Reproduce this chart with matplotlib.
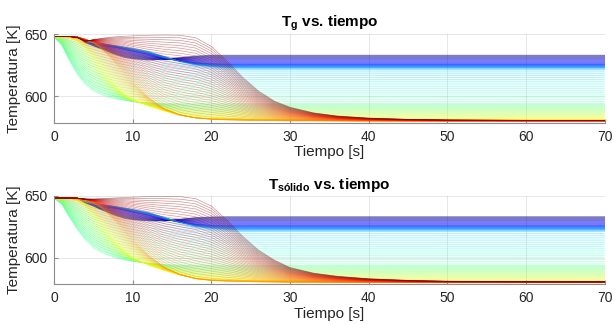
import numpy as np
import matplotlib.pyplot as plt

plt.rcParams['font.family'] = ['Liberation Sans', 'DejaVu Sans']
plt.rcParams['mathtext.fontset'] = 'custom'
plt.rcParams['mathtext.rm'] = 'Liberation Sans'
plt.rcParams['mathtext.bf'] = 'Liberation Sans:bold'
plt.rcParams['mathtext.it'] = 'Liberation Sans:italic'

# time grid [s]
t = [0, 1, 2, 3, 4, 5, 6, 7, 8, 9, 10, 12, 14, 16, 18, 20, 22, 24, 26, 28, 30, 33, 36, 40, 45, 50, 60, 70]

# representative curves (gas temperature), jet order blue -> red
g_dark_blue = [648, 648, 648, 647.5, 643, 640.5, 638, 635.5, 633, 631, 630, 629, 629.5, 631, 632.3, 633, 633, 633, 633, 633, 633, 633, 633, 633, 633, 633, 633, 633]
g_blue = [648, 648, 648, 647.5, 644, 642.5, 641, 640, 639, 637.5, 636, 633.5, 630.5, 628.3, 627, 626.3, 626, 626, 626, 626, 626, 626, 626, 626, 626, 626, 626, 626]
g_azure = [648, 648, 648, 647.5, 645, 643.5, 642.5, 641.5, 640.5, 639.5, 638.5, 636, 632, 628, 625, 623.5, 622.7, 622.5, 622.5, 622.5, 622.5, 622.5, 622.5, 622.5, 622.5, 622.5, 622.5, 622.5]
g_cyan_top = [648, 647, 645, 643, 641, 639.5, 638, 636.5, 635, 633.5, 632, 629.5, 627, 625, 623, 621.8, 621, 621, 621, 621, 621, 621, 621, 621, 621, 621, 621, 621]
g_cyan_low = [648, 641, 628, 617, 609, 604, 601, 599, 597.5, 596.5, 595.5, 594.5, 594, 594, 594, 594, 594, 594, 594, 594, 594, 594, 594, 594, 594, 594, 594, 594]
g_yellow = [648, 648, 647, 644, 638, 630, 622, 614, 607, 601, 597, 592, 588, 584.5, 582.5, 582, 581.8, 581.6, 581.5, 581.5, 581.4, 581.3, 581.2, 581.1, 581, 581, 581, 581]
g_orange = [648, 648, 648, 647.5, 646, 643, 638, 632, 625, 618, 611, 599, 590, 585, 582.5, 581.3, 580.8, 580.5, 580.3, 580.2, 580, 580, 579.9, 579.8, 579.8, 579.8, 579.8, 579.8]
g_red = [648, 648, 648, 647, 644, 645.5, 646.5, 647.3, 647.8, 648.2, 648.5, 649, 649.2, 649, 647, 640, 628, 615, 604, 596, 591, 586.5, 584, 582.3, 581.3, 580.8, 580.5, 580.5]

# same for the solid temperature
s_dark_blue = [648, 648, 648, 647.8, 644, 641.5, 638.5, 636, 633.5, 631.5, 630.5, 629.5, 629.5, 631, 632.3, 632.8, 633, 633, 633, 633, 633, 633, 633, 633, 633, 633, 633, 633]
s_blue = [648, 648, 648, 647.8, 645, 643, 641.5, 640.5, 639.5, 638, 636.5, 634, 631, 628.5, 627, 626.2, 626, 626, 626, 626, 626, 626, 626, 626, 626, 626, 626, 626]
s_azure = [648, 648, 648, 647.8, 645.5, 644, 643, 642, 641, 640, 639, 636.5, 632.5, 628.5, 625, 623.3, 622.5, 622.2, 622.2, 622.2, 622.2, 622.2, 622.2, 622.2, 622.2, 622.2, 622.2, 622.2]
s_cyan_top = [648, 647.5, 646, 644, 642, 640, 638.5, 637, 635.5, 634, 632.5, 630, 627.5, 625, 623, 621.5, 621, 621, 621, 621, 621, 621, 621, 621, 621, 621, 621, 621]
s_cyan_low = [648, 643, 632, 622, 614, 608, 604, 601.5, 599.5, 598, 597, 595.5, 594.5, 594, 594, 594, 594, 594, 594, 594, 594, 594, 594, 594, 594, 594, 594, 594]
s_yellow = [648, 648, 647.5, 645.5, 641, 634, 626, 618, 611, 605, 600, 594, 589.5, 586, 583.5, 582.5, 582, 581.8, 581.6, 581.5, 581.5, 581.4, 581.3, 581.2, 581.1, 581, 581, 581]
s_orange = [648, 648, 648, 647.8, 646.5, 644, 640, 634.5, 628, 621, 614, 602, 592.5, 586.5, 583, 581.5, 581, 580.7, 580.4, 580.2, 580, 580, 579.9, 579.8, 579.8, 579.8, 579.8, 579.8]
s_red = [648, 648, 648, 647.8, 647.2, 647.2, 647.5, 647.8, 648.1, 648.4, 648.7, 649.1, 649.3, 649.1, 647.5, 641.5, 630, 617, 606, 598, 592, 587.5, 585, 583, 581.7, 581, 580.7, 580.6]

# colormap position of each representative curve, and number of plotted lines
anchor_pos = [0.0, 0.15, 0.29, 0.31, 0.45, 0.64, 0.76, 1.0]
n_lines = 130


def draw(ax, anchors, title):
    anchors = np.array(anchors)
    p = np.linspace(0, 1, n_lines)
    curves = np.array([np.interp(p, anchor_pos, col) for col in anchors.T]).T
    colors = plt.cm.jet(p)
    for y, c in zip(curves, colors):
        ax.plot(t, y, color=c, lw=0.5, alpha=0.42)
    ax.set_xlim(0, 70)
    ax.set_ylim(578.5, 650)
    ax.set_xticks(range(0, 71, 10))
    ax.set_yticks([600, 650])
    ax.grid(True, color='#262626', alpha=0.13, lw=0.6)
    ax.set_axisbelow(True)
    for side in ['top', 'right']:
        ax.spines[side].set_visible(False)
    for side in ['left', 'bottom']:
        ax.spines[side].set_color('#8c8c8c')
        ax.spines[side].set_linewidth(0.8)
    ax.tick_params(direction='in', length=3, color='#8c8c8c', labelcolor='#262626',
                   labelsize=10, pad=5)
    ax.set_xlabel("Tiempo [s]", fontsize=11, color='#262626', labelpad=1)
    ax.set_ylabel("Temperatura [K]", fontsize=11, color='#262626', labelpad=2)
    ax.set_title(title, fontsize=11, fontweight='bold', pad=5)


fig = plt.figure(figsize=(6.14, 3.24), dpi=100)
ax1 = fig.add_axes([0.088, 0.621, 0.897, 0.274])
ax2 = fig.add_axes([0.088, 0.1225, 0.897, 0.274])

draw(ax1, [g_dark_blue, g_blue, g_azure, g_cyan_top, g_cyan_low, g_yellow, g_orange, g_red],
     r'$\mathbf{T_g}$ vs. tiempo')
draw(ax2, [s_dark_blue, s_blue, s_azure, s_cyan_top, s_cyan_low, s_yellow, s_orange, s_red],
     r'$\mathbf{T_{sólido}}$ vs. tiempo')

plt.savefig("out.png", dpi=100)
